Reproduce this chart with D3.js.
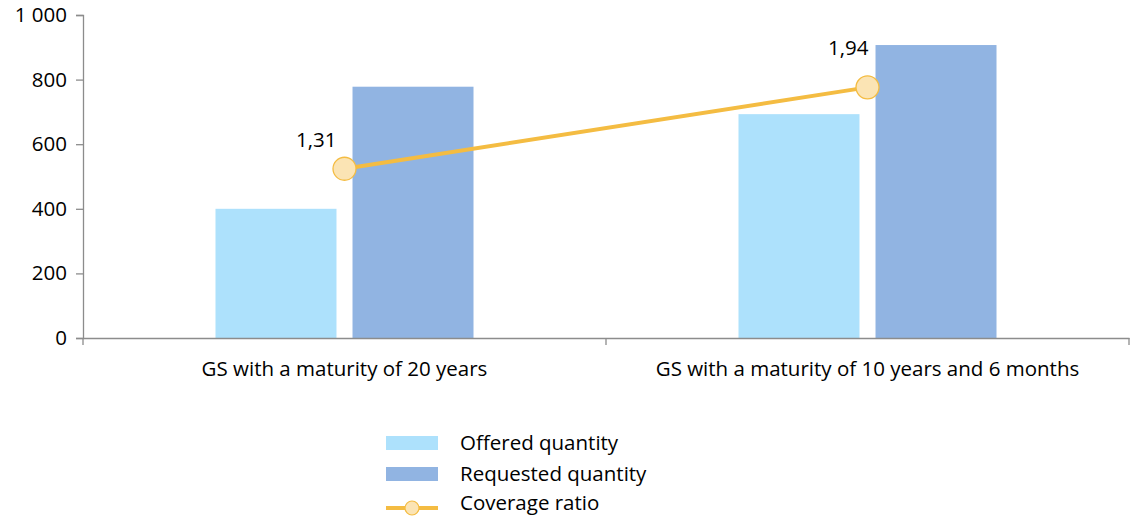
<!DOCTYPE html>
<html><head><meta charset="utf-8">
<script src="https://cdn.jsdelivr.net/npm/d3@7"></script>
<style>body{margin:0;background:#fff}svg{display:block}text{font-family:"Open Sans",sans-serif;fill:#000}</style>
</head><body><svg id="c" width="1132" height="517"></svg>
<script>
const categories = ["GS with a maturity of 20 years", "GS with a maturity of 10 years and 6 months"];
const offered = [400, 693];
const requested = [778, 907];
const coverage = [1.31, 1.94];
const coverageLabels = ["1,31", "1,94"];
const yTicks = [0, 200, 400, 600, 800, 1000];
const seriesNames = ["Offered quantity", "Requested quantity", "Coverage ratio"];

const svg = d3.select("#c");
const FS = "20.5px";
const L = 83, R = 1129, T = 15, B = 338;
const x = d3.scaleBand().domain(categories).range([L, R]).paddingInner(0).paddingOuter(0);
const y = d3.scaleLinear().domain([0, 1000]).range([B, T]);
const y2 = d3.scaleLinear().domain([0, 2.5]).range([B, T]);
const inner = d3.scaleBand().domain(["o", "r"]).range([0, x.bandwidth()]).paddingInner(0.117).paddingOuter(0.967);
const fmt = v => d3.format(",")(v).replace(/,/g, " ");
const axisColor = "#8c8c8c";

// y axis
const ya = svg.append("g").attr("transform", `translate(${L},0)`)
  .call(d3.axisLeft(y).tickValues(yTicks).tickFormat(fmt).tickSize(7).tickPadding(9));
ya.select(".domain").attr("stroke", axisColor).attr("stroke-width", 1.3);
ya.selectAll(".tick line").attr("stroke", axisColor).attr("stroke-width", 1.3);
ya.selectAll(".tick text").style("font-size", FS).style("font-family", "Open Sans");

// bars
const colors = {o: "#ADE1FC", r: "#91B4E2"};
categories.forEach((c, i) => {
  [["o", offered[i]], ["r", requested[i]]].forEach(([k, v]) => {
    svg.append("rect").attr("x", x(c) + inner(k)).attr("width", inner.bandwidth())
      .attr("y", y(v)).attr("height", y(0) - y(v)).attr("fill", colors[k]);
  });
});

// x axis
const xa = svg.append("g").attr("transform", `translate(0,${B})`)
  .call(d3.axisBottom(x).tickSize(0).tickPadding(23));
xa.select(".domain").attr("stroke", axisColor).attr("stroke-width", 1.3);
xa.selectAll(".tick text").style("font-size", FS).style("font-family", "Open Sans");
const bounds = [L, ...categories.map(c => x(c) + x.bandwidth())];
xa.selectAll(".sep").data(bounds).join("line").attr("class", "sep")
  .attr("x1", d => d).attr("x2", d => d).attr("y1", 0).attr("y2", 7)
  .attr("stroke", axisColor).attr("stroke-width", 1.3);

// line
const pts = categories.map((c, i) => [x(c) + x.bandwidth() / 2, y2(coverage[i])]);
svg.append("path").attr("d", d3.line()(pts)).attr("fill", "none")
  .attr("stroke", "#F4BC42").attr("stroke-width", 4);
svg.selectAll(".pt").data(pts).join("circle").attr("class", "pt")
  .attr("cx", d => d[0]).attr("cy", d => d[1]).attr("r", 11.5)
  .attr("fill", "#FBE4B4").attr("stroke", "#F4BC42").attr("stroke-width", 1.3);
const lblOff = [[-8, -22], [1, -32]];
svg.selectAll(".lbl").data(pts).join("text").attr("class", "lbl")
  .attr("x", (d, i) => d[0] + lblOff[i][0]).attr("y", (d, i) => d[1] + lblOff[i][1]).attr("text-anchor", "end")
  .style("font-size", FS).text((d, i) => coverageLabels[i]);

// legend
const lg = svg.append("g");
const lx = 386, rows = [443, 474, 503];
lg.append("rect").attr("x", lx).attr("y", rows[0] - 7).attr("width", 52).attr("height", 14).attr("fill", colors.o);
lg.append("rect").attr("x", lx).attr("y", rows[1] - 7).attr("width", 52).attr("height", 14).attr("fill", colors.r);
lg.append("line").attr("x1", lx).attr("x2", lx + 52).attr("y1", rows[2] + 5).attr("y2", rows[2] + 5)
  .attr("stroke", "#F4BC42").attr("stroke-width", 4);
lg.append("circle").attr("cx", lx + 26).attr("cy", rows[2] + 5).attr("r", 7)
  .attr("fill", "#FBE4B4").attr("stroke", "#F4BC42").attr("stroke-width", 1.2);
seriesNames.forEach((n, i) => {
  lg.append("text").attr("x", 460).attr("y", rows[i]).attr("dy", "0.35em")
    .style("font-size", FS).text(n);
});
</script></body></html>
